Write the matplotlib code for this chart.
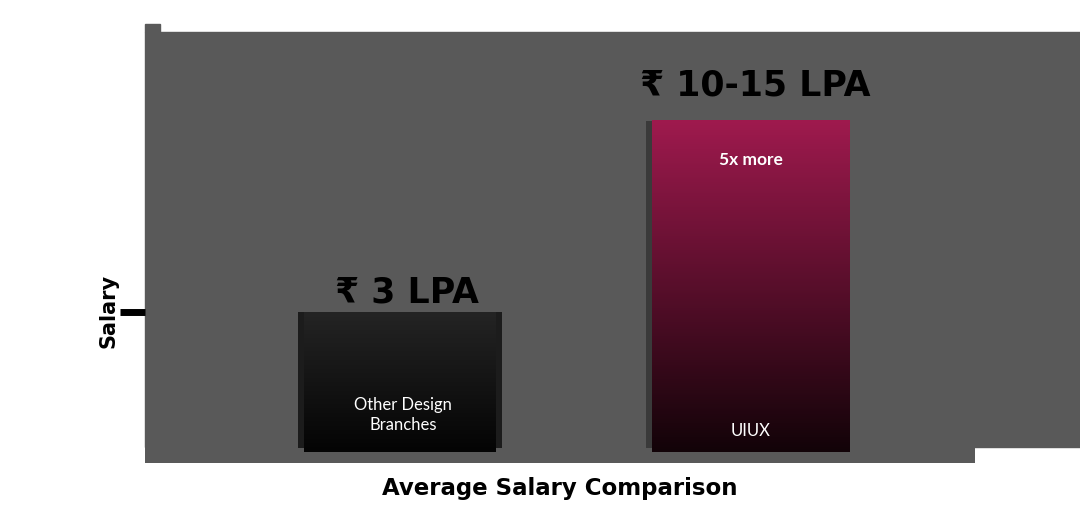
import matplotlib
matplotlib.use("Agg")
import matplotlib.pyplot as plt
import numpy as np
from matplotlib.colors import LinearSegmentedColormap
from matplotlib.patches import Rectangle

# ---- data ----
categories = ["Other Design\nBranches", "UIUX"]
salary_lpa = [3.0, 7.1]
value_labels = ["₹ 3 LPA", "₹ 10-15 LPA"]
callout = "5x more"
x_label = "Average Salary Comparison"
y_label = "Salary"
y_ticks = [3]

# ---- figure ----
W, H = 1080, 512
fig = plt.figure(figsize=(W / 100, H / 100), dpi=100)
fig.patch.set_facecolor("white")

def fx(px):
    return px / W

def fy(py):
    return 1 - py / H

gray = "#595959"
# extra grey panels behind the axes
fig.add_artist(Rectangle((fx(145), fy(447)), fx(1080) - fx(145), fy(32) - fy(447),
                         transform=fig.transFigure, color=gray, zorder=0))
fig.add_artist(Rectangle((fx(145), fy(32)), fx(160) - fx(145), fy(24) - fy(32),
                         transform=fig.transFigure, color=gray, zorder=0))

ax = fig.add_axes([fx(145), fy(463), fx(975) - fx(145), fy(32) - fy(463)])
ax.set_facecolor(gray)
for s in ax.spines.values():
    s.set_visible(False)

x = np.arange(len(categories))
width = 0.585
px_x = 830 / 2.384  # pixels per x unit
px_y = 431 / 9.236  # pixels per y unit

grad_colors = [("#242424", "#040404"), ("#9f1a4e", "#120308")]
shadow_colors = ["#1c1c1c", "#3a3a3a"]

# shadow bars (through the library's bar)
ax.bar(x, [v - 4 / px_y for v in salary_lpa], width=width, bottom=4 / px_y,
       color=shadow_colors, zorder=2)

grad = np.linspace(1, 0, 256).reshape(-1, 1)
for i, (xi, v) in enumerate(zip(x, salary_lpa)):
    cmap = LinearSegmentedColormap.from_list(f"g{i}", [grad_colors[i][1], grad_colors[i][0]])
    left = xi - width / 2 + 6 / px_x
    right = xi + width / 2 - (6 / px_x if i == 0 else 0)
    ax.imshow(grad, extent=[left, right, 0, v], aspect="auto", cmap=cmap,
              zorder=3, interpolation="bicubic")

ax.set_xlim(-0.732, 1.652)
ax.set_ylim(-0.236, 9.0)

# value labels above bars
label_offsets = [9, 25]
for i, (xi, v) in enumerate(zip(x, salary_lpa)):
    ax.annotate(value_labels[i], (xi + 0.02, v), xytext=(0, label_offsets[i] * 0.72),
                textcoords="offset points", ha="center", va="baseline",
                fontsize=25, fontweight="bold", color="black",
                family=["DejaVu Sans", "Noto Sans"], zorder=5)

# labels inside bars
ax.text(0.009, 0.79, categories[0], ha="center", va="center", color="white",
        fontsize=12, family="Lato", linespacing=1.25, zorder=5)
ax.text(1.008, 0.45, categories[1], ha="center", va="center", color="white",
        fontsize=12, family="Lato", zorder=5)
ax.text(1.008, (452 - 160) / px_y, callout, ha="center", va="center", color="white",
        fontsize=12.5, fontweight="bold", family="Lato", zorder=5)

ax.set_xticks([])
ax.set_yticks(y_ticks)
ax.set_yticklabels([""])
ax.tick_params(axis="y", length=18, width=5, color="black")

fig.text(fx(108), fy(311), y_label, rotation=90, ha="center", va="center",
         fontsize=15, fontweight="bold", color="black")
fig.text(fx(560), fy(488), x_label, ha="center", va="center",
         fontsize=16.5, fontweight="bold", color="black")

fig.savefig("out.png", dpi=100, facecolor="white")
